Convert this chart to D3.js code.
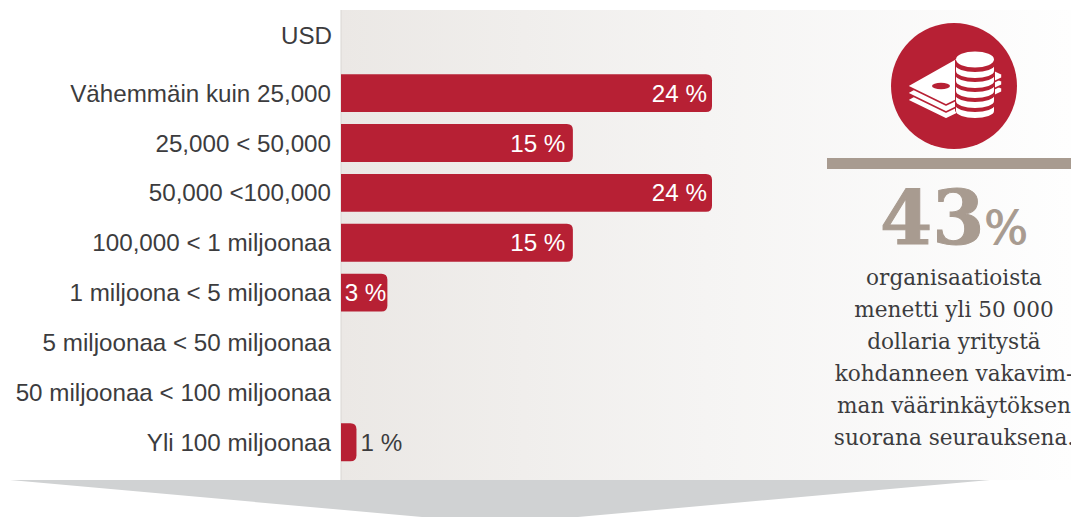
<!DOCTYPE html>
<html><head><meta charset="utf-8">
<script src="https://cdn.jsdelivr.net/npm/d3@7/dist/d3.min.js"></script>
<style>html,body{margin:0;padding:0;background:#fff;overflow:hidden}svg{display:block}</style>
</head><body><svg id="c" width="1071" height="517"></svg>
<script>
const headerLabel = "USD";
const categories = ["Vähemmäin kuin 25,000","25,000 < 50,000","50,000 <100,000","100,000 < 1 miljoonaa","1 miljoona < 5 miljoonaa","5 miljoonaa < 50 miljoonaa","50 miljoonaa < 100 miljoonaa","Yli 100 miljoonaa"];
const values = [24,15,24,15,3,null,null,1];
const bigNumber = "43";
const noteLines = ["organisaatioista","menetti yli 50 000","dollaria yritystä","kohdanneen vakavim-","man väärinkäytöksen","suorana seurauksena."];

const svg = d3.select("#c");
const defs = svg.append("defs");
const g = defs.append("linearGradient").attr("id","bg");
g.append("stop").attr("offset","0").attr("stop-color","#ebe8e5");
g.append("stop").attr("offset","0.5").attr("stop-color","#f5f4f3");
g.append("stop").attr("offset","1").attr("stop-color","#fefefe");

const sans = "'Liberation Sans',Arial,sans-serif", serif = "'DejaVu Serif',serif";
const x = d3.scaleLinear().domain([0,24]).range([341,712]);
const y = d3.scaleBand().domain(categories).range([68.2,467.2]).paddingInner(0.24).paddingOuter(0.12);

svg.append("rect").attr("x",341).attr("y",10).attr("width",730).attr("height",470).attr("fill","url(#bg)");
svg.append("line").attr("x1",341).attr("x2",341).attr("y1",10).attr("y2",480).attr("stroke","#d9d6d3");
svg.append("path").attr("d","M10,480L990,480L500,524Z").attr("fill","#d0d2d3");

const barPath = d => {
  const x0=x(0), x1=x(d.v), t=y(d.c), b=t+y.bandwidth(), r=6;
  return `M${x0},${t}H${x1-r}Q${x1},${t} ${x1},${t+r}V${b-r}Q${x1},${b} ${x1-r},${b}H${x0}Z`;
};
const rows = categories.map((c,i)=>({c,v:values[i]}));
svg.selectAll(".bar").data(rows.filter(d=>d.v!=null)).join("path").attr("class","bar").attr("d",barPath).attr("fill","#b72034");

const ff = 24.2;
svg.selectAll(".cat").data(rows).join("text").attr("class","cat")
  .attr("x",331).attr("y",d=>y(d.c)+y.bandwidth()/2+8.5).attr("text-anchor","end")
  .attr("font-family",sans).attr("font-size",ff).attr("fill","#3c3c3e").text(d=>d.c);
svg.append("text").attr("x",332).attr("y",44).attr("text-anchor","end")
  .attr("font-family",sans).attr("font-size",ff).attr("fill","#3c3c3e").text(headerLabel);

svg.selectAll(".val").data(rows.filter(d=>d.v!=null)).join("text").attr("class","val")
  .attr("x",d=>d.v==24? x(d.v)-5:(d.v==15?x(d.v)-7.5:(d.v==3?x(d.v)-1:x(d.v)+4)))
  .attr("y",d=>y(d.c)+y.bandwidth()/2+8.5)
  .attr("text-anchor",d=>d.v>=3?"end":"start")
  .attr("font-family",sans).attr("font-size",ff)
  .attr("fill",d=>d.v>=3?"#fff":"#3c3c3e").text(d=>d.v+" %");

// icon
const ic = svg.append("g").attr("transform","translate(954,86)");
ic.append("circle").attr("r",63).attr("fill","#b72034");
const w="#fff", red="#b72034";
[14,7,0].forEach(dy=>{
  ic.append("path").attr("d",`M-47,${dy}L8,${-31+dy}L48,${-12+dy}L48,${-8+dy}L-8,${19+dy}Z`)
    .attr("fill",w).attr("stroke",red).attr("stroke-width",1.6).attr("stroke-linejoin","round");
});
ic.append("ellipse").attr("cx",-13).attr("cy",0).attr("rx",9).attr("ry",3.2).attr("fill",red);
ic.append("rect").attr("x",1).attr("y",-26).attr("width",40).attr("height",50).attr("fill",red);
ic.append("ellipse").attr("cx",21).attr("cy",24).attr("rx",20).attr("ry",7).attr("fill",red);
[19,9,-1,-11,-21].forEach(cy=>{
  ic.append("path").attr("d",`M2,${cy}v6a19,7 0 0 0 38,0v-6z`).attr("fill",w);
  ic.append("ellipse").attr("cx",21).attr("cy",cy).attr("rx",19.5).attr("ry",7).attr("fill",red);
});
ic.append("ellipse").attr("cx",21).attr("cy",-26.5).attr("rx",19).attr("ry",8).attr("fill",w);

svg.append("rect").attr("x",827).attr("y",158).attr("width",244).attr("height",11).attr("fill","#a89b90");
const big = svg.append("text").attr("x",954).attr("y",244).attr("text-anchor","middle").attr("fill","#a89b90")
  .attr("font-family","'DejaVu Serif',serif").attr("font-weight","bold").attr("font-size",75)
  .attr("stroke","#a89b90").attr("stroke-width",1).text(bigNumber);
big.append("tspan").attr("font-size",46).attr("font-weight","normal").text("%");
svg.selectAll(".note").data(noteLines).join("text").attr("class","note")
  .attr("x",954).attr("y",(d,i)=>285+i*32).attr("text-anchor","middle")
  .attr("font-family",serif).attr("font-size",21.6).attr("fill","#3c3c3e").text(d=>d);
</script></body></html>
